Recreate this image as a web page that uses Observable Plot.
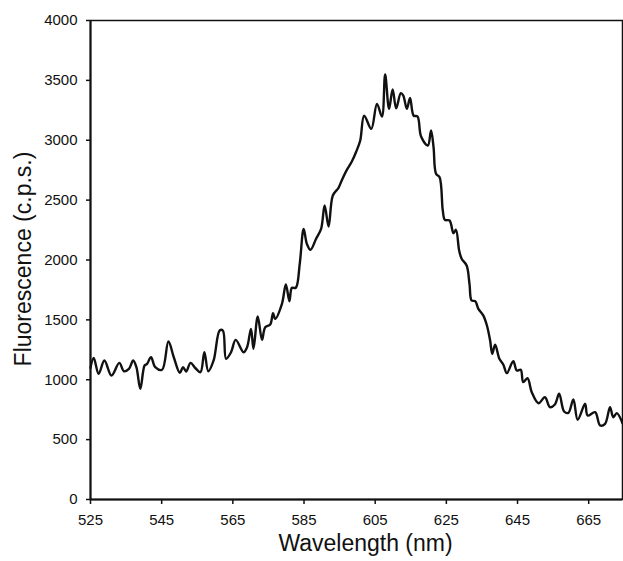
<!DOCTYPE html>
<html>
<head>
<meta charset="utf-8">
<script src="https://cdn.jsdelivr.net/npm/d3@7"></script>
<script src="https://cdn.jsdelivr.net/npm/@observablehq/plot@0.6"></script>
<style>
  html, body { margin: 0; padding: 0; background: #fff; }
</style>
</head>
<body>
<div id="chart"></div>
<script>
const wavelength = [
  525.0, 525.9, 527.3, 528.9, 530.9, 533.1, 534.4, 535.8, 537.0, 537.9,
  539.0, 540.2, 540.9, 542.0, 543.2, 545.1, 546.9, 548.4, 550.1, 551.0,
  551.9, 553.1, 554.5, 555.9, 557.0, 558.1, 559.6, 561.3, 562.2, 563.1,
  564.5, 565.8, 568.0, 569.0, 570.1, 570.8, 572.0, 573.2, 574.1, 575.5,
  576.3, 576.9, 578.8, 579.9, 580.9, 581.6, 582.7, 583.8, 584.9, 585.8,
  586.8, 588.4, 589.8, 590.8, 591.9, 593.1, 594.7, 595.6, 597.0, 598.4,
  599.6, 600.8, 601.9, 603.9, 605.5, 606.9, 607.8, 608.9, 609.9, 610.9,
  612.2, 612.9, 613.9, 614.8, 615.8, 616.9, 617.9, 619.8, 620.7, 621.4,
  622.1, 623.1, 624.0, 624.6, 625.9, 627.0, 627.7, 628.6, 629.3, 630.7,
  631.5, 632.1, 633.1, 634.0, 635.4, 636.4, 637.3, 637.9, 638.7, 639.9,
  641.0, 642.0, 643.8, 644.8, 645.9, 646.6, 647.8, 649.0, 650.9, 652.7,
  654.1, 655.5, 656.7, 658.1, 659.3, 660.7, 661.9, 664.0, 664.7, 666.8,
  668.2, 669.6, 671.0, 671.9, 672.9, 674.5
];
const fluorescence = [
  1100, 1183, 1050, 1161, 1035, 1141, 1071, 1091, 1161, 1105,
  924, 1119, 1133, 1188, 1105, 1083, 1319, 1188, 1058, 1105,
  1069, 1141, 1096, 1063, 1230, 1071, 1161, 1411, 1411, 1175,
  1230, 1333, 1230, 1272, 1425, 1258, 1528, 1333, 1439, 1461,
  1556, 1509, 1634, 1795, 1656, 1768, 1768, 1968, 2260, 2135,
  2085, 2177, 2260, 2455, 2280, 2538, 2603, 2664, 2750, 2820,
  2900, 2998, 3206, 3095, 3304, 3198, 3549, 3262, 3424, 3267,
  3393, 3373, 3262, 3354, 3206, 3198, 3031, 2956, 3081, 2942,
  2720, 2691, 2413, 2335, 2330, 2224, 2252, 2079, 2010, 1954,
  1801, 1662, 1656, 1592, 1536, 1453, 1328, 1217, 1292, 1175,
  1127, 1055, 1155, 1077, 1083, 980, 1013, 896, 804, 854,
  771, 793, 883, 735, 724, 835, 666, 799, 701, 729,
  618, 632, 771, 687, 721, 637
];
const xTicks = [525, 545, 565, 585, 605, 625, 645, 665];
const yTicks = [0, 500, 1000, 1500, 2000, 2500, 3000, 3500, 4000];
const xLabel = "Wavelength (nm)";
const yLabel = "Fluorescence (c.p.s.)";

const data = wavelength.map((w, i) => ({w, f: fluorescence[i]}));

const chart = Plot.plot({
  width: 623,
  height: 561,
  marginLeft: 90,
  marginRight: 1,
  marginTop: 20,
  marginBottom: 62,
  style: {fontFamily: "'Liberation Sans', Arial, sans-serif", fontSize: "15px", background: "#fff", color: "#111", overflow: "visible"},
  x: {domain: [525, 674.5], ticks: xTicks, label: null},
  y: {domain: [0, 4000], ticks: yTicks, label: null},
  marks: [
    Plot.frame({stroke: "#111", strokeWidth: 1.5}),
    Plot.axisX({ticks: xTicks, tickSize: 5, tickPadding: 10, fontSize: 15, tickFormat: d => String(d), label: null, strokeWidth: 1.5}),
    Plot.axisY({ticks: yTicks, tickSize: 4, tickPadding: 9, fontSize: 15, tickFormat: d => String(d), label: null, strokeWidth: 1.5}),
    Plot.ruleX([525], {stroke: "#111", strokeWidth: 2}),
    Plot.ruleY([0], {stroke: "#111", strokeWidth: 2}),
    Plot.line(data, {x: "w", y: "f", stroke: "#111", strokeWidth: 2.4, curve: "catmull-rom"}),
    Plot.text([yLabel], {frameAnchor: "left", textAnchor: "middle", dx: -67, dy: -1, rotate: -90, fontSize: 23, fill: "#111"}),
    Plot.text([xLabel], {frameAnchor: "bottom", textAnchor: "middle", dx: 9, dy: 51, fontSize: 23, fill: "#111"})
  ]
});
document.getElementById("chart").appendChild(chart);
</script>
</body>
</html>
